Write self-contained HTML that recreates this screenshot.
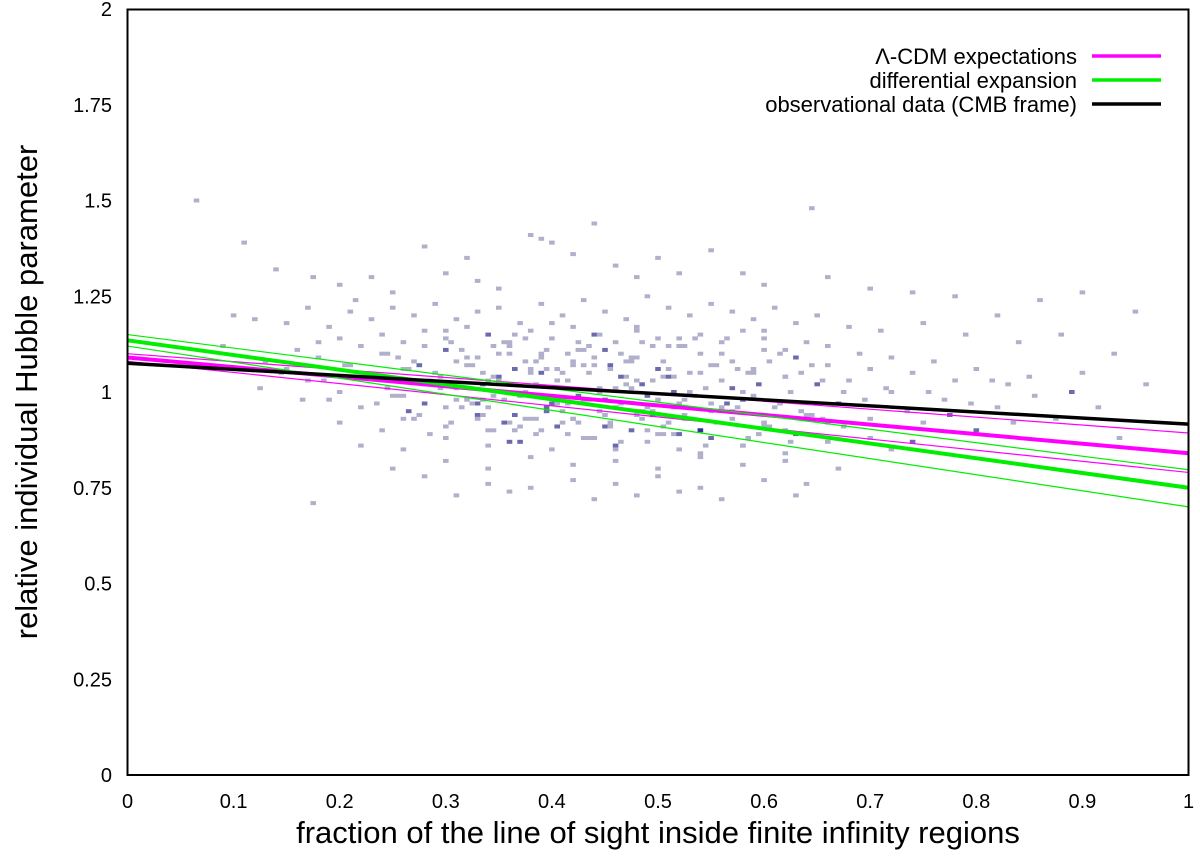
<!DOCTYPE html>
<html><head><meta charset="utf-8"><style>
body{margin:0;background:#fff;}
svg text{font-family:"Liberation Sans",sans-serif;fill:#000;}
</style></head><body>
<svg id="chart" width="1200" height="855" xmlns="http://www.w3.org/2000/svg">
<g id="cells"></g>
<g id="lines"></g>
<rect x="127.5" y="9.5" width="1061" height="765.5" fill="none" stroke="#000" stroke-width="2"/>
<g id="xticks" font-size="20" text-anchor="middle"></g>
<g id="yticks" font-size="20" text-anchor="end"></g>
<text x="658" y="843" font-size="31" text-anchor="middle">fraction of the line of sight inside finite infinity regions</text>
<text transform="translate(37,392) rotate(-90)" font-size="31" text-anchor="middle">relative individual Hubble parameter</text>
<g id="legend" font-size="22" text-anchor="end"></g>
</svg>
<script>
const xTicks=[0,0.1,0.2,0.3,0.4,0.5,0.6,0.7,0.8,0.9,1];
const xTickLabels=["0","0.1","0.2","0.3","0.4","0.5","0.6","0.7","0.8","0.9","1"];
const yTicks=[0,0.25,0.5,0.75,1,1.25,1.5,1.75,2];
const yTickLabels=["0","0.25","0.5","0.75","1","1.25","1.5","1.75","2"];
const lineNames=["cdm-upper","cdm-lower","cdm-fit","de-upper","de-lower","de-fit","obs-fit"];
const lineStart=[1.10,1.08,1.09,1.15,1.12,1.135,1.075];
const lineEnd=[0.893,0.79,0.84,0.797,0.70,0.75,0.916];
const lineColors=["#ff00ff","#ff00ff","#ff00ff","#00ee00","#00ee00","#00ee00","#000"];
const lineWidths=[1.2,1.2,4,1.2,1.2,4,3.5];
const legendLabels=["Λ-CDM expectations","differential expansion","observational data (CMB frame)"];
const legendColors=["#ff00ff","#00ee00","#000"];
const cellX=[0.065,0.11,0.14,0.175,0.2,0.215,0.23,0.25,0.28,0.3,0.32,0.33,0.35,0.38,0.39,0.4,0.42,0.44,0.46,0.48,0.5,0.52,0.55,0.58,0.6,0.645,0.66,0.7,0.74,0.78,0.82,0.86,0.9,0.95,
0.1,0.12,0.15,0.17,0.19,0.21,0.23,0.25,0.27,0.29,0.31,0.33,0.35,0.37,0.39,0.41,0.43,0.45,0.47,0.49,0.51,0.53,0.55,0.57,0.59,0.61,0.63,0.65,0.68,0.71,0.75,0.79,0.84,0.88,0.93,
0.09,0.13,0.16,0.18,0.2,0.22,0.24,0.26,0.28,0.3,0.32,0.34,0.36,0.38,0.4,0.42,0.44,0.46,0.48,0.5,0.52,0.54,0.56,0.58,0.6,0.62,0.64,0.66,0.69,0.72,0.76,0.8,0.85,0.9,0.96,
0.15,0.18,0.21,0.24,0.27,0.3,0.33,0.36,0.39,0.42,0.45,0.48,0.51,0.54,0.57,0.6,0.63,0.66,0.7,0.74,0.78,0.83,0.89,
0.17,0.2,0.23,0.26,0.29,0.32,0.35,0.38,0.41,0.44,0.47,0.5,0.53,0.56,0.59,0.62,0.65,0.68,0.72,0.77,0.82,
0.19,0.22,0.25,0.28,0.31,0.34,0.37,0.4,0.43,0.46,0.49,0.52,0.55,0.58,0.61,0.64,0.67,0.7,0.75,0.8,
0.2,0.24,0.27,0.3,0.33,0.36,0.39,0.42,0.45,0.48,0.51,0.54,0.57,0.6,0.63,0.66,0.7,0.74,
0.22,0.26,0.3,0.34,0.37,0.4,0.43,0.46,0.49,0.52,0.55,0.58,0.62,0.66,0.72,
0.25,0.3,0.34,0.38,0.42,0.46,0.5,0.54,0.58,0.62,0.67,
0.175,0.28,0.34,0.38,0.42,0.46,0.5,0.54,0.6,0.64,
0.31,0.36,0.44,0.48,0.52,0.56,0.63,
0.335,0.345,0.355,0.365,0.375,0.385,0.395,0.405,0.415,0.425,0.435,0.445,0.455,0.465,0.475,0.485,0.495,0.505,0.515,0.525,
0.335,0.345,0.355,0.365,0.375,0.385,0.395,0.405,0.415,0.425,0.435,0.445,0.455,0.465,0.475,0.485,0.495,0.505,0.515,0.525,
0.31,0.33,0.35,0.37,0.39,0.41,0.43,0.45,0.47,0.49,0.51,0.53,0.55,0.57,0.59,
0.31,0.33,0.35,0.37,0.39,0.41,0.43,0.45,0.47,0.49,0.51,0.53,0.55,0.57,0.59,
0.235,0.255,0.275,0.295,0.315,0.335,0.355,0.375,0.395,0.415,0.435,0.455,0.475,0.495,0.515,0.535,0.555,0.575,0.595,0.615,0.635,0.655,0.675,
0.235,0.255,0.275,0.295,0.315,0.335,0.355,0.375,0.395,0.415,0.435,0.455,0.475,0.495,0.515,0.535,0.555,0.575,0.595,0.615,0.635,0.655,0.675,
0.245,0.265,0.285,0.305,0.325,0.345,0.365,0.385,0.405,0.425,0.445,0.465,0.485,0.505,0.525,0.545,0.565,0.585,0.605,0.625,0.645,
0.245,0.265,0.285,0.305,0.325,0.345,0.365,0.385,0.405,0.425,0.445,0.465,0.485,0.505,0.525,0.545,0.565,0.585,0.605,0.625,0.645,
0.26,0.28,0.3,0.32,0.34,0.36,0.38,0.4,0.42,0.44,0.46,0.48,0.5,0.52,0.54,0.56,0.58,0.6,0.62,
0.26,0.28,0.3,0.32,0.34,0.36,0.38,0.4,0.42,0.44,0.46,0.48,0.5,0.52,0.54,0.56,0.58,0.6,0.62,
0.125,0.145,0.165,0.185,0.205,0.695,0.715,0.735,0.755,0.775,0.795,0.815,0.835,0.855,0.875,0.915,0.935];
const cellY=[1.50,1.39,1.32,1.30,1.28,1.24,1.30,1.26,1.38,1.31,1.35,1.29,1.27,1.41,1.40,1.39,1.36,1.44,1.33,1.30,1.35,1.31,1.37,1.31,1.28,1.48,1.30,1.27,1.26,1.25,1.20,1.24,1.26,1.21,
1.20,1.19,1.18,1.22,1.17,1.21,1.19,1.22,1.20,1.23,1.19,1.21,1.22,1.18,1.23,1.20,1.24,1.21,1.19,1.25,1.22,1.20,1.23,1.21,1.19,1.22,1.18,1.20,1.17,1.16,1.18,1.15,1.13,1.15,1.10,
1.12,1.08,1.11,1.13,1.14,1.12,1.15,1.13,1.16,1.14,1.17,1.15,1.13,1.16,1.14,1.17,1.15,1.13,1.16,1.14,1.12,1.15,1.13,1.16,1.14,1.11,1.13,1.12,1.10,1.09,1.08,1.06,1.04,1.05,1.02,
1.06,1.09,1.07,1.10,1.08,1.11,1.09,1.12,1.10,1.08,1.11,1.09,1.12,1.10,1.08,1.11,1.09,1.07,1.06,1.05,1.03,1.02,1.00,
1.03,1.00,1.04,1.06,1.05,1.07,1.04,1.06,1.05,1.07,1.04,1.06,1.05,1.03,1.06,1.04,1.02,1.03,1.00,0.98,0.96,
0.98,0.96,0.99,0.97,0.98,0.96,0.99,0.97,0.98,0.96,0.99,0.97,0.95,0.98,0.96,0.94,0.97,0.93,0.92,0.90,
0.92,0.90,0.93,0.91,0.94,0.92,0.90,0.93,0.91,0.94,0.92,0.90,0.93,0.91,0.89,0.92,0.88,0.87,
0.86,0.85,0.88,0.86,0.87,0.85,0.88,0.86,0.87,0.85,0.88,0.86,0.84,0.87,0.85,
0.80,0.82,0.80,0.83,0.81,0.82,0.80,0.83,0.81,0.82,0.80,
0.71,0.78,0.76,0.75,0.77,0.76,0.78,0.75,0.77,0.76,
0.73,0.74,0.72,0.73,0.74,0.72,0.73,
1.02,1.04,0.98,1.06,1.00,1.08,0.96,1.03,1.10,0.99,1.05,1.01,1.07,0.97,1.09,1.02,0.95,1.04,1.00,0.98,
0.94,1.12,0.92,0.90,1.14,0.93,1.11,0.91,0.89,1.13,0.88,1.15,0.92,1.10,0.90,0.93,1.12,0.91,0.89,0.94,
1.01,0.97,1.03,0.99,1.05,0.95,1.07,0.98,1.02,0.96,1.04,1.00,0.97,1.01,0.99,
1.08,0.93,1.10,0.91,1.09,0.92,1.11,0.94,1.08,0.90,1.06,0.93,1.07,0.95,1.05,
1.04,0.99,1.07,1.01,0.96,1.05,1.00,1.08,0.95,1.03,0.98,1.06,1.01,0.94,1.04,0.99,1.07,0.96,1.02,0.97,1.05,0.93,1.00,
0.97,1.09,0.94,1.04,1.11,0.98,1.13,0.93,1.06,0.97,1.12,0.91,1.08,1.03,0.96,1.14,0.92,1.06,0.89,1.10,0.95,1.03,0.91,
1.01,0.95,1.03,0.92,1.07,0.99,0.94,1.02,1.06,0.92,1.00,1.04,0.95,1.08,0.93,1.01,0.97,1.05,0.91,1.00,0.94,
1.10,1.06,0.89,1.13,0.97,0.90,1.15,0.89,0.97,1.11,0.95,0.87,1.13,0.89,1.12,0.86,1.14,0.88,1.08,0.87,1.07,
0.99,1.12,0.96,1.09,1.03,0.87,1.05,0.99,0.93,1.09,0.85,1.03,0.98,0.89,1.05,0.96,1.00,0.92,1.04,
0.93,1.02,1.16,0.98,0.90,1.10,0.93,1.18,1.07,0.88,1.01,1.17,0.89,1.14,0.84,1.10,0.86,1.16,0.90,
1.01,1.05,0.98,1.03,1.07,0.98,1.01,0.95,1.00,0.94,0.97,1.03,0.92,0.99,0.93,0.96,0.88,0.95,0.91];
const cellShade=[0,0,0,0,0,0,0,0,0,0,0,0,0,0,0,0,0,0,0,0,0,0,0,0,0,0,0,0,0,0,0,0,0,0,
0,0,0,0,0,0,0,0,0,0,0,0,0,0,0,0,0,0,0,0,0,0,0,0,0,0,0,0,0,0,0,0,0,0,0,
0,0,0,0,0,0,0,0,0,0,0,1,0,0,0,0,1,0,0,0,0,0,0,0,0,0,0,0,0,0,0,0,0,0,0,
0,0,0,0,0,1,0,0,0,0,1,0,0,0,0,0,1,0,0,0,0,0,1,
0,0,0,0,0,0,1,0,0,0,0,1,0,0,0,0,1,0,0,0,0,
0,0,0,1,0,0,0,1,0,0,1,0,0,1,0,0,1,0,0,1,
0,0,0,0,1,0,0,0,1,0,0,2,0,0,1,0,0,1,
0,0,0,0,1,0,0,1,0,0,1,0,0,0,0,
0,0,0,0,0,0,0,0,0,0,0,
0,0,0,0,0,0,0,0,0,0,
0,0,0,0,0,0,0,
1,0,0,1,0,0,1,0,0,1,0,0,1,0,0,1,0,0,1,0,
0,0,1,0,0,0,0,1,0,0,0,0,0,0,1,0,0,0,0,0,
0,1,0,0,1,0,0,1,0,0,1,0,0,1,0,
0,0,0,0,0,0,0,0,0,0,0,0,0,0,0,
0,0,1,0,0,0,0,0,1,0,0,0,0,1,0,0,0,0,1,0,0,0,0,
0,0,0,0,0,0,0,0,0,0,0,0,0,0,0,0,0,0,0,0,0,0,0,
0,1,0,0,0,0,1,0,0,0,0,1,0,0,0,0,1,0,0,0,0,
0,0,0,0,0,0,0,0,0,0,0,0,0,0,0,0,0,0,0,0,0,
0,0,0,0,0,1,0,0,0,0,0,0,0,1,0,0,0,0,0,
0,0,0,0,0,0,0,0,0,0,0,0,0,0,0,0,0,0,0,
0,0,0,0,0,0,0,0,0,1,0,0,0,0,0,0,0];
const NS="http://www.w3.org/2000/svg";
const X0=127.5,X1=1188.5,Y0=775,Y1=9;
function sx(v){return X0+(X1-X0)*v;}
function sy(v){return Y0-(Y0-Y1)*v/2;}
const shadeColors=["#b0b0cc","#6a6aac","#303098"];
const cg=document.getElementById('cells');
for(let i=0;i<cellX.length;i++){
 const r=document.createElementNS(NS,'rect');
 
 
 r.setAttribute('x',(sx(cellX[i])-2.8).toFixed(1));
 r.setAttribute('y',(sy(cellY[i])-2).toFixed(1));
 r.setAttribute('width','5.6');r.setAttribute('height','4');
 r.setAttribute('fill',shadeColors[cellShade[i]||0]);
 cg.appendChild(r);
}
const lg=document.getElementById('lines');
for(let i=0;i<lineNames.length;i++){
 const l=document.createElementNS(NS,'line');
 
 
 l.setAttribute('x1',sx(0));l.setAttribute('y1',sy(lineStart[i]));
 l.setAttribute('x2',sx(1));l.setAttribute('y2',sy(lineEnd[i]));
 l.setAttribute('stroke',lineColors[i]);l.setAttribute('stroke-width',lineWidths[i]);
 lg.appendChild(l);
}
const xg=document.getElementById('xticks');
xTicks.forEach((v,i)=>{const t=document.createElementNS(NS,'text');
 
 
 t.setAttribute('x',sx(v));t.setAttribute('y',808);t.textContent=xTickLabels[i];xg.appendChild(t);});
const yg=document.getElementById('yticks');
yTicks.forEach((v,i)=>{const t=document.createElementNS(NS,'text');
 
 
 t.setAttribute('x',112);t.setAttribute('y',sy(v)+7);t.textContent=yTickLabels[i];yg.appendChild(t);});
const leg=document.getElementById('legend');
legendLabels.forEach((s,i)=>{const y=56+i*24;
 const t=document.createElementNS(NS,'text');
 
 
 t.setAttribute('x',1077);t.setAttribute('y',y+8);t.textContent=s;leg.appendChild(t);
 const l=document.createElementNS(NS,'line');
 
 
 l.setAttribute('x1',1092);l.setAttribute('x2',1161);l.setAttribute('y1',y);l.setAttribute('y2',y);
 l.setAttribute('stroke',legendColors[i]);l.setAttribute('stroke-width',3.5);leg.appendChild(l);});
</script>
</body></html>
